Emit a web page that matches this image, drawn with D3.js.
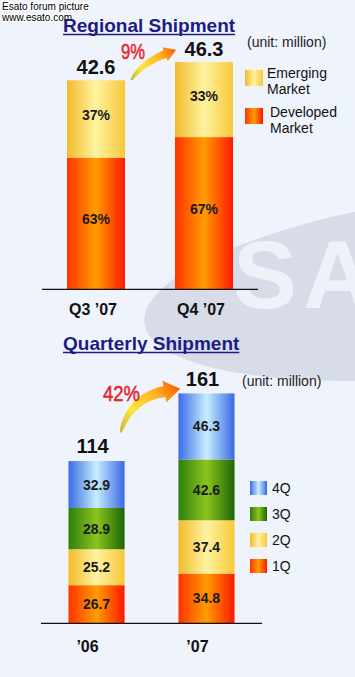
<!DOCTYPE html>
<html>
<head>
<meta charset="utf-8">
<script src="https://cdn.jsdelivr.net/npm/d3@7"></script>
<style>
  html, body { margin: 0; padding: 0; background: #eff3fb; }
  #container { width: 355px; height: 677px; }
  text { font-family: "Liberation Sans", Arial, sans-serif; }
</style>
</head>
<body>
<div id="container"></div>
<script>
// Data
const regionCats = ["Q3 \u201907", "Q4 \u201907"];
const regionTotals = [42.6, 46.3];
const emergingShare = [37, 33];
const developedShare = [63, 67];
const regionGrowth = "9%";

const yearCats = ["\u201906", "\u201907"];
const q1 = [26.7, 34.8];
const q2 = [25.2, 37.4];
const q3 = [28.9, 42.6];
const q4 = [32.9, 46.3];
const yearTotals = [114, 161];
const yearGrowth = "42%";

const W = 355, H = 677;

const svg = d3.select("#container")
    .append("svg")
    .attr("width", W)
    .attr("height", H);

const defs = svg.append("defs");

// horizontal "tube" gradients for the bars
function tube(id, edgeL, mid, edgeR) {
    const g = defs.append("linearGradient").attr("id", id)
        .attr("x1", "0%").attr("x2", "100%").attr("y1", "0%").attr("y2", "0%");
    g.append("stop").attr("offset", "0%").attr("stop-color", edgeL);
    g.append("stop").attr("offset", "50%").attr("stop-color", mid);
    g.append("stop").attr("offset", "100%").attr("stop-color", edgeR);
}
tube("gYellow", "#f2bb2a", "#fff3a0", "#f7c838");
tube("gRed", "#ff3300", "#ff9c00", "#ff1800");
tube("gBlue", "#3b6be6", "#c6eeff", "#3a68e4");
tube("gGreen", "#2f7f0c", "#8cc41e", "#1e6606");

// background
svg.append("rect").attr("width", W).attr("height", H).attr("fill", "#eff3fb");
defs.append("clipPath").attr("id", "clipAll")
    .append("rect").attr("width", W).attr("height", H);
const bg = svg.append("g").attr("clip-path", "url(#clipAll)");
bg.append("ellipse")
    .attr("cx", 472).attr("cy", 283).attr("rx", 330).attr("ry", 90)
    .attr("transform", "rotate(-7,472,283)")
    .attr("fill", "#d7dce8");
bg.append("text")
    .attr("x", 233).attr("y", 308)
    .attr("font-size", 96).attr("font-weight", "bold")
    .attr("letter-spacing", 6)
    .attr("fill", "#eef1f8")
    .text("SAMSUNG");

// forum watermark
const wm = svg.append("g")
    .attr("font-size", 10)
    .attr("fill", "#000")
    .attr("stroke", "#fff").attr("stroke-width", 2.4)
    .attr("paint-order", "stroke");
wm.append("text").attr("x", 2).attr("y", 10).text("Esato forum picture");
wm.append("text").attr("x", 2).attr("y", 21).text("www.esato.com");

function title(txt, x, y) {
    const t = svg.append("text")
        .attr("x", x).attr("y", y)
        .attr("font-size", 19).attr("font-weight", "bold")
        .attr("fill", "#1c1c84")
        .text(txt);
    const w = t.node().getComputedTextLength();
    svg.append("line")
        .attr("x1", x).attr("x2", x + w)
        .attr("y1", y + 2.5).attr("y2", y + 2.5)
        .attr("stroke", "#1c1c84").attr("stroke-width", 1.6);
}

// curved growth arrow, tapered, with gradient
function arrow(id, p0, ctrl, p1, maxHalf, headHalf, headLen) {
    const pts = d3.range(0, 1.0001, 1 / 30).map(t => {
        const x = (1 - t) * (1 - t) * p0[0] + 2 * (1 - t) * t * ctrl[0] + t * t * p1[0];
        const y = (1 - t) * (1 - t) * p0[1] + 2 * (1 - t) * t * ctrl[1] + t * t * p1[1];
        const dx = 2 * (1 - t) * (ctrl[0] - p0[0]) + 2 * t * (p1[0] - ctrl[0]);
        const dy = 2 * (1 - t) * (ctrl[1] - p0[1]) + 2 * t * (p1[1] - ctrl[1]);
        const len = Math.hypot(dx, dy);
        return { x, y, nx: -dy / len, ny: dx / len, ux: dx / len, uy: dy / len, w: 0.5 + (maxHalf - 0.5) * Math.sqrt(t) };
    });
    const end = pts[pts.length - 1];
    const tip = [end.x + end.ux * headLen, end.y + end.uy * headLen];

    const grad = defs.append("linearGradient").attr("id", id)
        .attr("gradientUnits", "userSpaceOnUse")
        .attr("x1", p0[0]).attr("y1", p0[1]).attr("x2", tip[0]).attr("y2", tip[1]);
    grad.append("stop").attr("offset", "0%").attr("stop-color", "#c9b43a");
    grad.append("stop").attr("offset", "30%").attr("stop-color", "#ffe83a");
    grad.append("stop").attr("offset", "70%").attr("stop-color", "#ffb21e");
    grad.append("stop").attr("offset", "100%").attr("stop-color", "#ff5a00");

    const p = d3.path();
    pts.forEach((d, i) => {
        const x = d.x + d.nx * d.w, y = d.y + d.ny * d.w;
        if (i === 0) p.moveTo(x, y); else p.lineTo(x, y);
    });
    p.lineTo(end.x + end.nx * headHalf, end.y + end.ny * headHalf);
    p.lineTo(tip[0], tip[1]);
    p.lineTo(end.x - end.nx * headHalf, end.y - end.ny * headHalf);
    pts.slice().reverse().forEach(d => {
        p.lineTo(d.x - d.nx * d.w, d.y - d.ny * d.w);
    });
    p.closePath();
    svg.append("path").attr("d", p.toString()).attr("fill", `url(#${id})`);
}

// narrow red growth label
function growthLabel(txt, x, y, len) {
    svg.append("text")
        .attr("x", x).attr("y", y)
        .attr("font-size", 22)
        .attr("textLength", len)
        .attr("lengthAdjust", "spacingAndGlyphs")
        .attr("fill", "#e6222a")
        .attr("stroke", "#e6222a").attr("stroke-width", 0.5)
        .text(txt);
}

// ---------- Regional Shipment ----------
title("Regional Shipment", 63, 32);

const x1 = d3.scaleBand()
    .domain(regionCats)
    .range([42, 258])
    .paddingInner(0.463)
    .paddingOuter(0.2315);

const y1 = d3.scaleLinear()
    .domain([0, 50])
    .range([289.3, 289.3 - 50 * 4.906]);

const regionRows = regionCats.map((c, i) => ({
    cat: c,
    developed: regionTotals[i] * developedShare[i] / 100,
    emerging: regionTotals[i] * emergingShare[i] / 100,
    devPct: developedShare[i],
    emPct: emergingShare[i],
    total: regionTotals[i]
}));
const regionStack = d3.stack().keys(["developed", "emerging"])(regionRows);
const regionFill = { developed: "url(#gRed)", emerging: "url(#gYellow)" };
const regionPct = { developed: "devPct", emerging: "emPct" };

const gTop = svg.append("g");
regionStack.forEach(layer => {
    gTop.selectAll(null)
        .data(layer)
        .enter()
        .append("rect")
        .attr("x", d => x1(d.data.cat))
        .attr("width", x1.bandwidth())
        .attr("y", d => y1(d[1]))
        .attr("height", d => y1(d[0]) - y1(d[1]))
        .attr("fill", regionFill[layer.key]);
    gTop.selectAll(null)
        .data(layer)
        .enter()
        .append("text")
        .attr("x", d => x1(d.data.cat) + x1.bandwidth() / 2)
        .attr("y", d => (y1(d[0]) + y1(d[1])) / 2 - 4)
        .attr("text-anchor", "middle")
        .attr("dominant-baseline", "central")
        .attr("font-size", 14).attr("font-weight", "bold")
        .attr("fill", "#1a1a1a")
        .text(d => d.data[regionPct[layer.key]] + "%");
});

gTop.selectAll(null)
    .data(regionRows)
    .enter()
    .append("text")
    .attr("x", d => x1(d.cat) + x1.bandwidth() / 2)
    .attr("y", d => y1(d.total) - 6)
    .attr("text-anchor", "middle")
    .attr("font-size", 20).attr("font-weight", "bold")
    .attr("fill", "#111")
    .text(d => d.total.toFixed(1));

// baseline + category labels
gTop.append("line")
    .attr("x1", x1.range()[0]).attr("x2", x1.range()[1])
    .attr("y1", y1(0)).attr("y2", y1(0))
    .attr("stroke", "#111").attr("stroke-width", 1.3);
gTop.selectAll(null)
    .data(regionCats)
    .enter()
    .append("text")
    .attr("x", d => x1(d) + x1.bandwidth() / 2 - 3)
    .attr("y", y1(0) + 26)
    .attr("text-anchor", "middle")
    .attr("font-size", 16).attr("font-weight", "bold")
    .attr("fill", "#111")
    .text(d => d);

// growth arrow
{
    const a = x1(regionCats[0]) + x1.bandwidth() + 6;
    const b = x1(regionCats[1]) - 10;
    const ya = y1(regionTotals[0]);
    const yb = y1(regionTotals[1]) - 8;
    arrow("arrTop", [a, ya], [a + 11, yb + 9], [b, yb], 4, 7.5, 12);
    growthLabel(regionGrowth, a - 10, ya - 21, 24);
}

svg.append("text").attr("x", 247).attr("y", 47)
    .attr("font-size", 14).attr("fill", "#222")
    .text("(unit: million)");

// legend top
const regionLegend = [
    { lines: ["Emerging", "Market"], fill: "url(#gYellow)", sy: 70, tx: 267, ty: 78 },
    { lines: ["Developed", "Market"], fill: "url(#gRed)", sy: 108, tx: 270, ty: 117 }
];
regionLegend.forEach(d => {
    svg.append("rect").attr("x", 245).attr("y", d.sy)
        .attr("width", 18).attr("height", 16).attr("fill", d.fill);
    d.lines.forEach((l, i) => {
        svg.append("text").attr("x", d.tx).attr("y", d.ty + i * 15.5)
            .attr("font-size", 14).attr("fill", "#111").text(l);
    });
});

// ---------- Quarterly Shipment ----------
title("Quarterly Shipment", 63, 350);

const x2 = d3.scaleBand()
    .domain(yearCats)
    .range([41, 262])
    .paddingInner(0.49)
    .paddingOuter(0.25);

const y2 = d3.scaleLinear()
    .domain([0, 170])
    .range([623.3, 623.3 - 170 * 1.427]);

const yearRows = yearCats.map((c, i) => ({ cat: c, q1: q1[i], q2: q2[i], q3: q3[i], q4: q4[i], total: yearTotals[i] }));
const quarterKeys = ["q1", "q2", "q3", "q4"];
const quarterFill = { q1: "url(#gRed)", q2: "url(#gYellow)", q3: "url(#gGreen)", q4: "url(#gBlue)" };
const yearStack = d3.stack().keys(quarterKeys)(yearRows);

const gBot = svg.append("g");
yearStack.forEach(layer => {
    gBot.selectAll(null)
        .data(layer)
        .enter()
        .append("rect")
        .attr("x", d => x2(d.data.cat))
        .attr("width", x2.bandwidth())
        .attr("y", d => y2(d[1]))
        .attr("height", d => y2(d[0]) - y2(d[1]))
        .attr("fill", quarterFill[layer.key]);
    gBot.selectAll(null)
        .data(layer)
        .enter()
        .append("text")
        .attr("x", d => x2(d.data.cat) + x2.bandwidth() / 2)
        .attr("y", d => (y2(d[0]) + y2(d[1])) / 2)
        .attr("text-anchor", "middle")
        .attr("dominant-baseline", "central")
        .attr("font-size", 14).attr("font-weight", "bold")
        .attr("fill", "#1a1a1a")
        .text(d => d.data[layer.key].toFixed(1));
});

gBot.selectAll(null)
    .data(yearRows)
    .enter()
    .append("text")
    .attr("x", d => x2(d.cat) + x2.bandwidth() / 2 - 4)
    .attr("y", d => y2(d.total) - 8)
    .attr("text-anchor", "middle")
    .attr("font-size", 20).attr("font-weight", "bold")
    .attr("fill", "#111")
    .text(d => d.total);

gBot.append("line")
    .attr("x1", x2.range()[0]).attr("x2", x2.range()[1])
    .attr("y1", y2(0)).attr("y2", y2(0))
    .attr("stroke", "#111").attr("stroke-width", 1.3);
gBot.selectAll(null)
    .data(yearCats)
    .enter()
    .append("text")
    .attr("x", d => x2(d) + x2.bandwidth() / 2 - 9)
    .attr("y", y2(0) + 29)
    .attr("text-anchor", "middle")
    .attr("font-size", 16).attr("font-weight", "bold")
    .attr("fill", "#111")
    .text(d => d);

{
    const a = x2(yearCats[0]) + x2.bandwidth() - 4;
    const ya = y2(yearTotals[0]) - 28;
    const b = x2(yearCats[1]) - 14;
    const yb = y2(yearTotals[1]) - 2;
    arrow("arrBot", [a, ya], [a + 10, yb + 6], [b, yb], 5.5, 11, 16);
    growthLabel(yearGrowth, 103, 401, 37);
}

svg.append("text").attr("x", 242).attr("y", 386)
    .attr("font-size", 14).attr("fill", "#222")
    .text("(unit: million)");

// legend bottom (4Q on top)
const quarterLabels = ["1Q", "2Q", "3Q", "4Q"];
const legendY = d3.scalePoint()
    .domain(quarterKeys.slice().reverse())
    .range([481, 559]);
quarterKeys.forEach((k, i) => {
    svg.append("rect").attr("x", 250).attr("y", legendY(k))
        .attr("width", 17).attr("height", 14).attr("fill", quarterFill[k]);
    svg.append("text").attr("x", 272).attr("y", legendY(k) + 12)
        .attr("font-size", 14).attr("fill", "#111").text(quarterLabels[i]);
});
</script>
</body>
</html>
